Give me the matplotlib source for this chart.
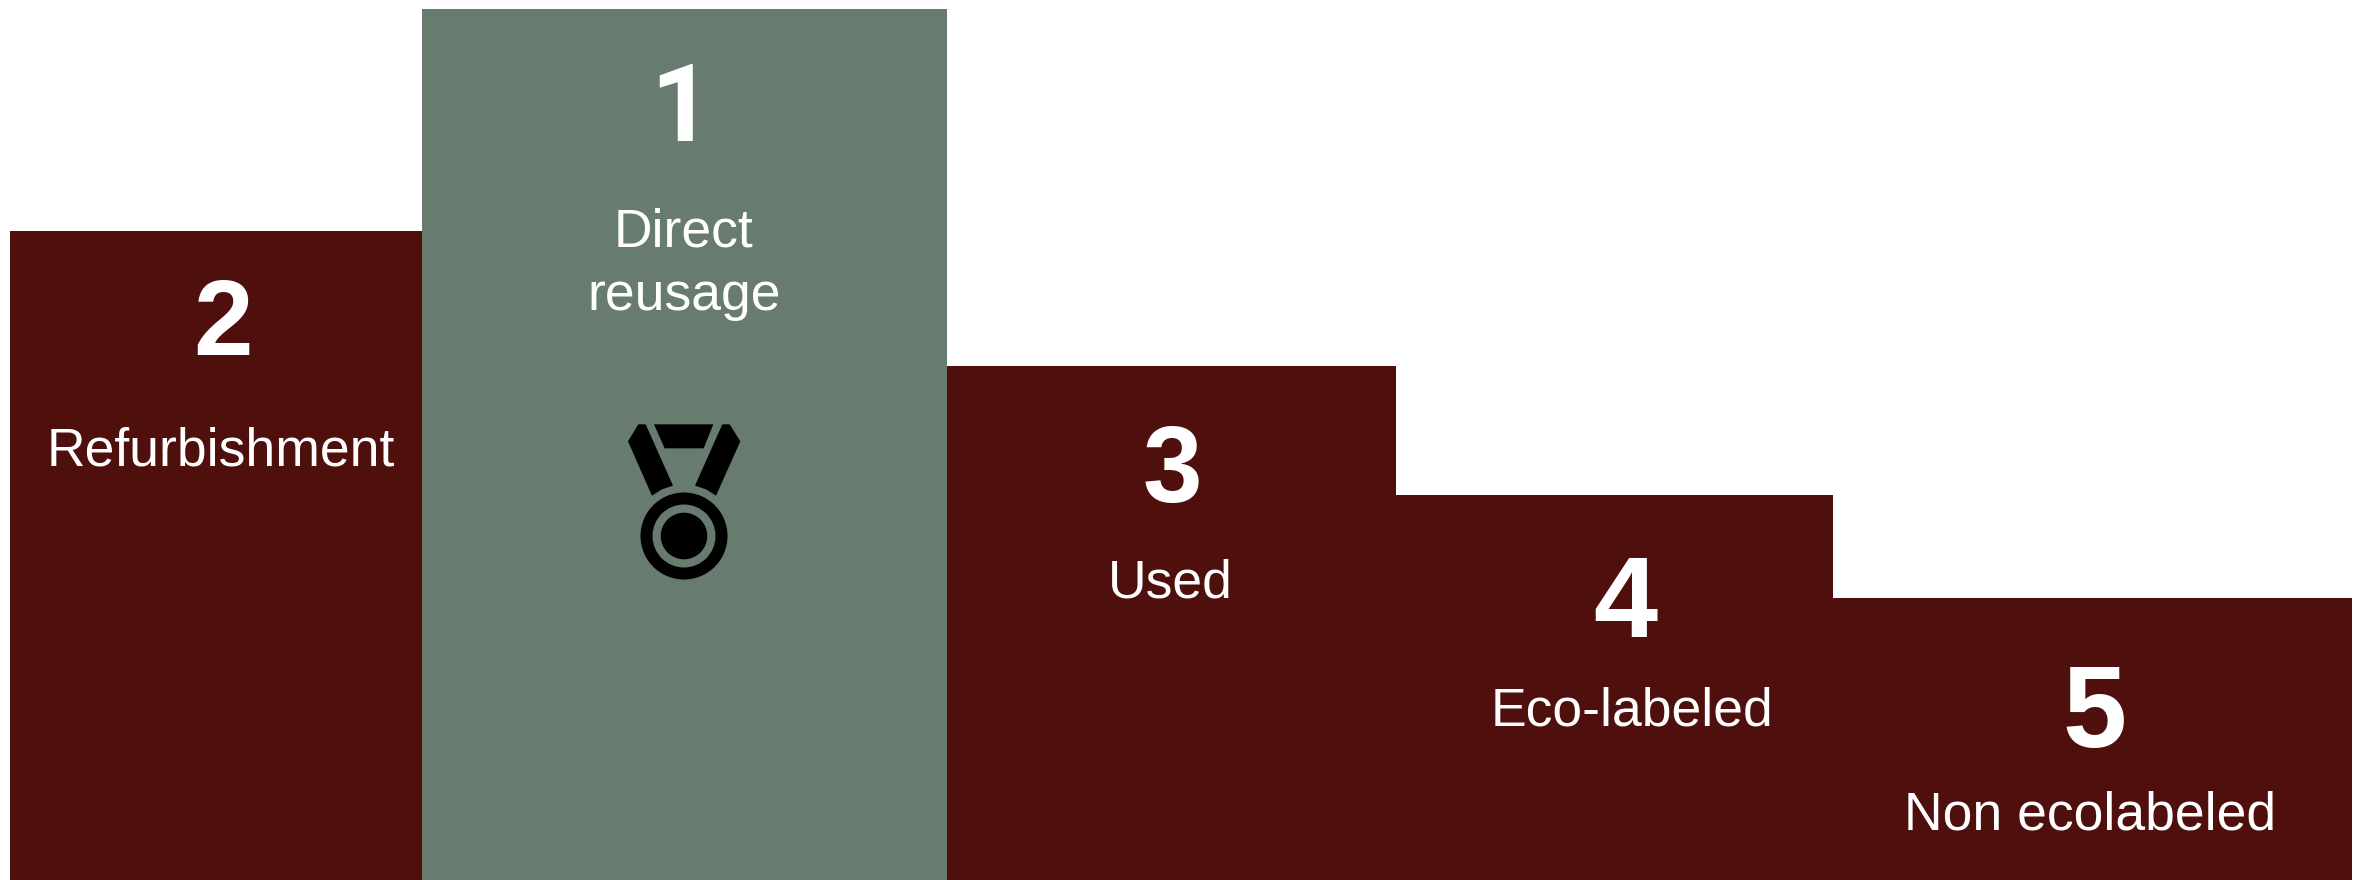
# podium chart: ranking of purchase options, bar area scaled to rank
import matplotlib
matplotlib.use('Agg')
import matplotlib.pyplot as plt
import numpy as np
from matplotlib.patches import Circle, Polygon

matplotlib.rcParams['font.family'] = ['Liberation Sans', 'DejaVu Sans']

# ── Data ───────────────────────────────────────────────────────────────────
ranks   = ['2', '1', '3', '4', '5']
labels  = ['Refurbishment', 'Direct\nreusage', 'Used', 'Eco-labeled', 'Non ecolabeled']
heights = [649, 871, 514, 385, 282]
widths  = [412, 525, 449, 437, 519]

MAROON = '#4F0F0D'
GREEN  = '#677B6F'
colors = [MAROON, GREEN, MAROON, MAROON, MAROON]

# ── Plot ───────────────────────────────────────────────────────────────────
fig = plt.figure(figsize=(23.66, 8.8), dpi=100)
ax = fig.add_axes([0, 0, 1, 1])
ax.set_xlim(0, 2366)
ax.set_ylim(880, 0)
ax.axis('off')

lefts = 10 + np.concatenate(([0], np.cumsum(widths)[:-1]))
ax.bar(lefts, [-h for h in heights], widths, bottom=880, align='edge',
       color=colors, linewidth=0)

# (x, baseline y) in pixels for the rank digit and for the label
rank_pos  = [(223, 355), (681, 141), (1172, 502), (1625, 637), (2094, 747)]
label_pos = [(221, 465), (684, 310), (1170, 598), (1632, 726), (2090, 830)]
rank_size = [77, 77, 77, 83, 83]

for i, (rank, label) in enumerate(zip(ranks, labels)):
    # the reference '1' has no foot serif, Liberation's has, Roboto's does not
    fam = ['Roboto'] if rank == '1' else ['Liberation Sans']
    ax.text(rank_pos[i][0], rank_pos[i][1], rank, color='white', family=fam,
            fontsize=rank_size[i], fontweight='bold', ha='center', va='baseline')
    ax.text(label_pos[i][0], label_pos[i][1], label, color='white', fontsize=38.5,
            ha='center', va='baseline', linespacing=1.34, multialignment='center')

# ── Medal icon ─────────────────────────────────────────────────────────────
def medal_pt(x, y):
    return (580 + x / 3, 400 + y / 3)

ribbons = [
    [(175, 73), (197, 73), (279, 257), (246, 268), (216, 287), (144, 124)],
    [(222, 73), (400, 73), (371, 145), (254, 145)],
    [(427, 73), (449, 73), (481, 124), (408, 287), (378, 268), (345, 257)],
]
for pts in ribbons:
    ax.add_patch(Polygon([medal_pt(*p) for p in pts], closed=True, fc='black', lw=0))

cx, cy = medal_pt(312, 408)
ax.add_patch(Circle((cx, cy), 43.5, fc='black', lw=0))
ax.add_patch(Circle((cx, cy), 31.5, fc=GREEN, lw=0))
ax.add_patch(Circle((cx, cy), 23.3, fc='black', lw=0))

fig.savefig('out.png', dpi=100)
plt.close(fig)
